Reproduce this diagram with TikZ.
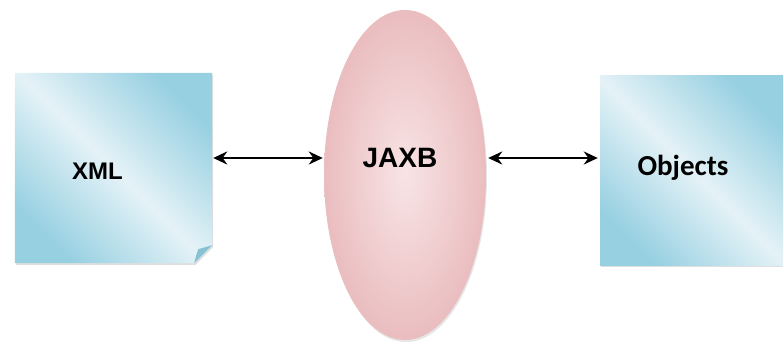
\documentclass[tikz,border=0pt]{standalone}
\usepackage{fontspec}
\setmainfont{Liberation Sans}
\newfontfamily\objfont{Carlito}
\usepackage{tikz}
\usetikzlibrary{positioning, shapes.geometric, shadows}
\usetikzlibrary{arrows.meta}

\definecolor{boxedge}{HTML}{97D0E1}
\definecolor{boxmid}{HTML}{E4F2F7}
\definecolor{foldblue}{HTML}{86C2D5}
\definecolor{pinkedge}{HTML}{EABDBF}
\definecolor{pinkmid}{HTML}{F8E4E5}

\tikzset{
    databox/.style={rectangle, minimum width=197, minimum height=190, inner sep=0pt},
    bluefill/.style={left color=boxedge, right color=boxedge, middle color=boxmid, shading angle=-45,
        drop shadow={opacity=0.25, shadow xshift=1pt, shadow yshift=-2pt}},
    link/.style={<->, line width=2.3pt, >={Stealth[length=14pt, width=13pt]}}
}

\begin{document}
\begin{tikzpicture}[x=1pt, y=-1pt]
        \useasboundingbox (0,0) rectangle (783,345);

        % Define nodes
        \node[databox] (xml) at (113.5, 168) {};
        \shade[bluefill] (xml.north west) -- (xml.north east) -- ([yshift=18pt]xml.south east)
            -- ([xshift=-18pt]xml.south east) -- (xml.south west) -- cycle;
        \fill[foldblue] ([yshift=18pt]xml.south east) -- ([xshift=-18pt]xml.south east)
            .. controls ([xshift=-16pt, yshift=8pt]xml.south east) .. ([xshift=-14pt, yshift=14pt]xml.south east) -- cycle;
        \node[font=\bfseries\fontsize{24}{26}\selectfont] at (97.5, 171) {XML};

        \node[ellipse, minimum width=162, minimum height=330, inner sep=0pt,
              inner color=pinkmid, outer color=pinkedge,
              drop shadow={opacity=0.2, shadow xshift=1pt, shadow yshift=-2pt}] (jaxb) at (405, 175) {};
        \node[font=\bfseries\fontsize{28}{30}\selectfont] at (400, 158) {JAXB};

        \node[databox, minimum width=183, bluefill] (objects) at (691.5, 170) {};
        \node[font=\objfont\bfseries\fontsize{29}{31}\selectfont] at (683, 168) {Objects};

        % Draw edges
        \draw[link] ([xshift=1pt, yshift=10pt]xml.east) -- ([xshift=-1pt, yshift=17pt]jaxb.west);
        \draw[link] ([xshift=2pt, yshift=17pt]jaxb.east) -- ([xshift=-2pt, yshift=12pt]objects.west);
    \end{tikzpicture}
\end{document}
